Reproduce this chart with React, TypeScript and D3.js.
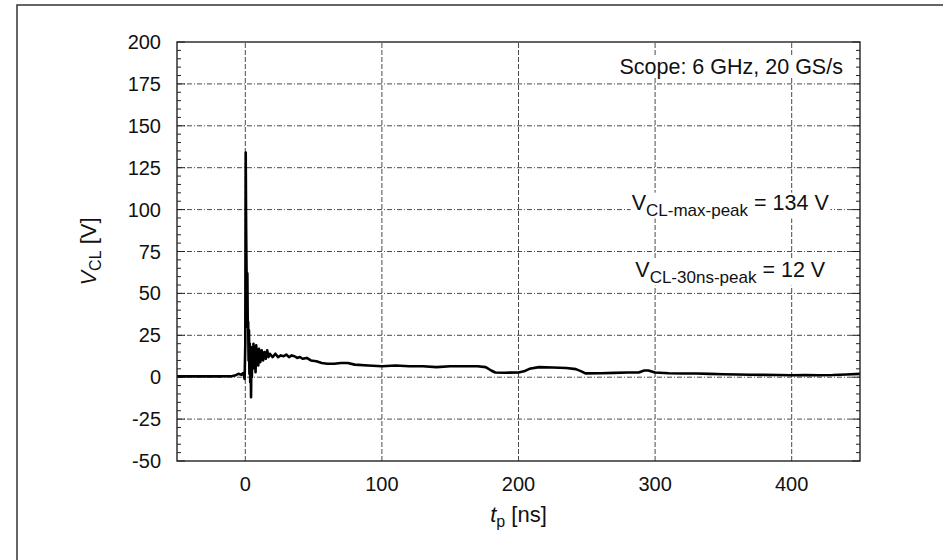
import { useEffect, useRef } from 'react'
import * as d3 from 'd3'

// waveform: time [ns] and clamp voltage [V]
const tNs = [
  -50, -40, -30, -20, -10, -7, -5, -3, -1.5, -0.5, 0, 0.3, 0.6, 0.9, 1.2, 1.5, 1.8, 2.1, 2.4, 2.7,
  3.0, 3.3, 3.6, 3.9, 4.2, 4.5, 4.8, 5.1, 5.5, 6, 6.5, 7, 7.5, 8, 8.5, 9, 9.5, 10, 11, 12,
  13, 14, 15, 16, 17, 18, 20, 22, 24, 26, 28, 30, 32, 34, 36, 38, 40, 42, 45, 48,
  52, 56, 60, 65, 70, 75, 80, 90, 100, 110, 120, 130, 140, 150, 160, 170, 176, 180, 183, 190,
  200, 204, 208, 215, 225, 235, 242, 246, 249, 260, 270, 280, 288, 292, 295, 300, 310, 320, 330, 340,
  350, 360, 370, 380, 390, 400, 410, 420, 430, 440, 450,
]
const vCl = [
  0.5, 0.5, 0.6, 0.5, 0.6, 1.2, 2, 1.5, 2.5, -1, 20, 134, 90, 64, 40, 62, 30, 33, 10, 28,
  2, 20, -3, 15, -12, 12, 0, 18, 5, 20, 6, 17, 3, 19, 8, 16, 7, 17, 9, 16,
  10, 15, 11, 16, 12, 14, 12, 14, 12, 13, 12.5, 13.5, 12, 13, 12.5, 11.5, 12, 11, 11.5, 10,
  9.5, 8.5, 8, 8, 8.5, 8.5, 7.5, 7, 6.5, 7, 6.5, 6.5, 6, 6.5, 6.5, 6.5, 6, 4, 2.8, 2.7,
  2.8, 3.5, 5, 6, 5.8, 5.5, 4.8, 3.5, 2.3, 2.4, 2.6, 2.8, 2.8, 4, 4, 2.8, 2.4, 2.2, 2.2, 2.0,
  1.8, 1.6, 1.5, 1.4, 1.3, 1.2, 1.3, 1.2, 1.3, 1.6, 2,
]

const xTicks = [0, 100, 200, 300, 400]
const yTicks = [-50, -25, 0, 25, 50, 75, 100, 125, 150, 175, 200]

const W = 943, H = 560
const M = { left: 177, right: 83, top: 42, bottom: 99 }
const FONT = '"Liberation Sans", Arial, Helvetica, sans-serif'
const GRID = '#4a4a4a'

export default function App() {
  const svgRef = useRef<SVGSVGElement>(null)

  useEffect(() => {
    if (!svgRef.current) return
    const svg = d3.select(svgRef.current)
    svg.selectAll('*').remove()

    const x = d3.scaleLinear().domain([-50, 450]).range([M.left, W - M.right])
    const y = d3.scaleLinear().domain([-50, 200]).range([H - M.bottom, M.top])
    const [x0, x1] = x.range()
    const [y0, y1] = y.range()

    // outer frame of the figure (cropped on the right/bottom)
    svg.append('path')
      .attr('d', `M17,${H + 5} V5 H${W + 5}`)
      .attr('fill', 'none').attr('stroke', '#333').attr('stroke-width', 1.5)

    const g = svg.append('g')

    // grid
    g.selectAll('line.vg').data(xTicks).join('line')
      .attr('x1', d => x(d)).attr('x2', d => x(d))
      .attr('y1', y0).attr('y2', y1)
      .attr('stroke', GRID).attr('stroke-width', 1).attr('stroke-dasharray', '5,2')
    g.selectAll('line.hg').data(yTicks.filter(d => d > -50 && d < 200)).join('line')
      .attr('x1', x0).attr('x2', x1)
      .attr('y1', d => y(d)).attr('y2', d => y(d))
      .attr('stroke', GRID).attr('stroke-width', 1).attr('stroke-dasharray', '5,2,1,2')

    // y minor + major ticks, both sides, inward
    const yMinor = d3.range(-50, 201, 5)
    g.selectAll('line.ytl').data(yMinor).join('line')
      .attr('x1', x0).attr('x2', d => x0 + (d % 25 === 0 ? 8 : 4))
      .attr('y1', d => y(d)).attr('y2', d => y(d))
      .attr('stroke', '#222').attr('stroke-width', 1)
    g.selectAll('line.ytr').data(yMinor).join('line')
      .attr('x1', x1).attr('x2', d => x1 - (d % 25 === 0 ? 8 : 4))
      .attr('y1', d => y(d)).attr('y2', d => y(d))
      .attr('stroke', '#222').attr('stroke-width', 1)

    // waveform
    const pts = tNs.map((t, i) => [t, vCl[i]] as [number, number])
    const line = d3.line<[number, number]>().x(d => x(d[0])).y(d => y(d[1]))
    g.append('path')
      .attr('d', line(pts))
      .attr('fill', 'none').attr('stroke', '#000').attr('stroke-width', 2.6)
      .attr('stroke-linejoin', 'round')

    // plot frame
    g.append('rect')
      .attr('x', x0).attr('y', y1).attr('width', x1 - x0).attr('height', y0 - y1)
      .attr('fill', 'none').attr('stroke', '#222').attr('stroke-width', 1.4)

    // tick labels
    const lbl = svg.append('g').attr('font-family', FONT).attr('font-size', 20).attr('fill', '#111')
    lbl.selectAll('text.yl').data(yTicks).join('text')
      .attr('x', x0 - 16).attr('y', d => y(d) + 7)
      .attr('text-anchor', 'end').text(d => d)
    lbl.selectAll('text.xl').data(xTicks).join('text')
      .attr('x', d => x(d)).attr('y', y0 + 30)
      .attr('text-anchor', 'middle').text(d => d)

    // axis titles
    const xt = lbl.append('text').attr('font-size', 22)
      .attr('x', (x0 + x1) / 2).attr('y', y0 + 61).attr('text-anchor', 'middle')
    xt.append('tspan').attr('font-style', 'italic').text('t')
    xt.append('tspan').attr('font-size', 16).attr('dy', 5).text('p')
    xt.append('tspan').attr('dy', -5).text(' [ns]')

    const yt = lbl.append('text').attr('font-size', 22)
      .attr('transform', `translate(96,${(y0 + y1) / 2}) rotate(-90)`)
      .attr('text-anchor', 'middle')
    yt.append('tspan').attr('font-style', 'italic').text('V')
    yt.append('tspan').attr('font-size', 16).attr('dy', 5).text('CL')
    yt.append('tspan').attr('dy', -5).text(' [V]')

    // annotations, drawn on an opaque box so the grid stops at the text
    const notes = svg.append('g').attr('font-family', FONT).attr('font-size', 21.5).attr('fill', '#111')
    const boxed = (t: d3.Selection<SVGTextElement, unknown, null, undefined>) => {
      const b = (t.node() as SVGTextElement).getBBox()
      notes.insert('rect', () => t.node())
        .attr('x', b.x - 1).attr('y', b.y + 2).attr('width', b.width + 2).attr('height', b.height - 3)
        .attr('fill', '#fff')
    }

    const scope = notes.append('text')
      .attr('x', x(437.5)).attr('y', y(181)).attr('text-anchor', 'end')
      .text('Scope: 6 GHz, 20 GS/s')
    boxed(scope)

    const ann = [
      { v: 100, sub: 'CL-max-peak', rest: ' = 134 V' },
      { v: 60, sub: 'CL-30ns-peak', rest: ' = 12 V' },
    ]
    ann.forEach(a => {
      const t = notes.append('text')
        .attr('x', x(355)).attr('y', y(a.v)).attr('text-anchor', 'middle')
      t.append('tspan').text('V')
      t.append('tspan').attr('font-size', 17).attr('dy', 6).text(a.sub)
      t.append('tspan').attr('dy', -6).text(a.rest)
      boxed(t)
    })
  }, [])

  return (
    <div style={{ position: 'absolute', left: 0, top: 0, width: W, height: H, background: '#fff' }}>
      <svg ref={svgRef} width={W} height={H} style={{ display: 'block' }} />
    </div>
  )
}
